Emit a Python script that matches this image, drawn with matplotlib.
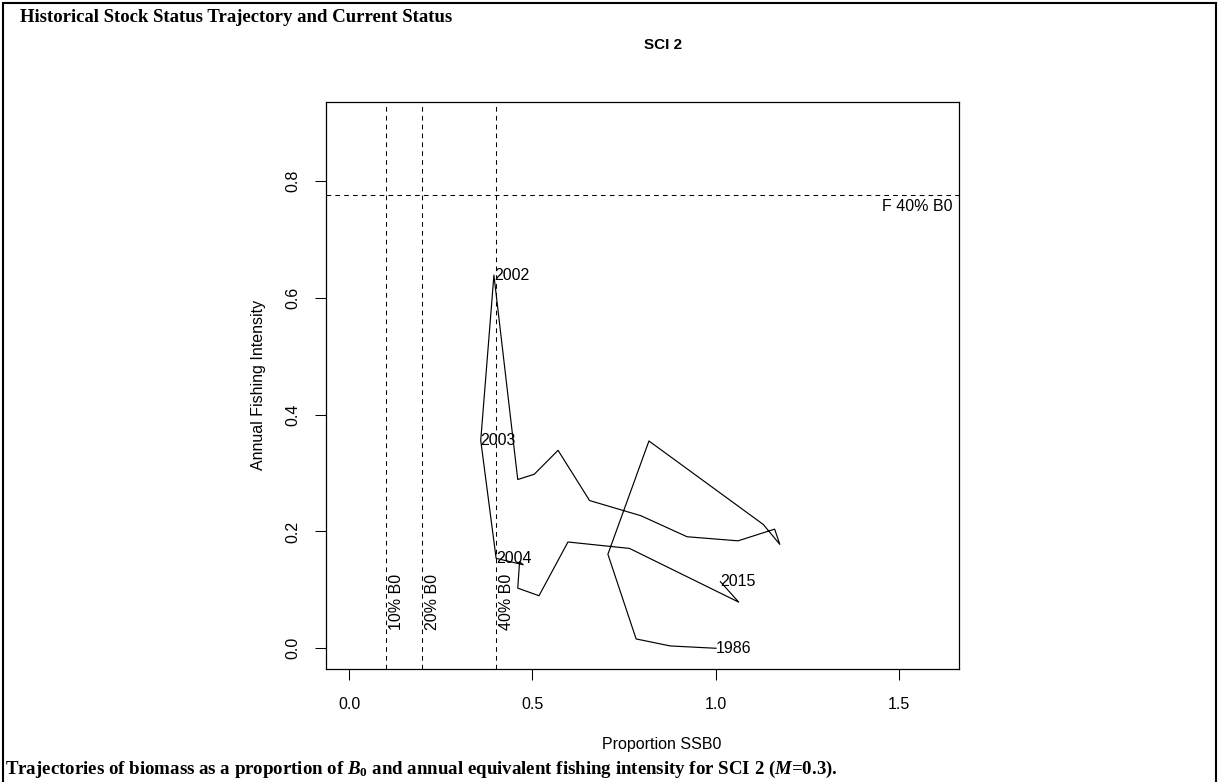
import matplotlib
matplotlib.use("Agg")
import matplotlib.pyplot as plt
from matplotlib.patches import Rectangle

plt.rcParams["font.family"] = ["Liberation Sans", "DejaVu Sans"]
plt.rcParams["mathtext.fontset"] = "custom"
plt.rcParams["mathtext.rm"] = "Liberation Serif:bold"
plt.rcParams["mathtext.it"] = "Liberation Serif:italic:bold"
plt.rcParams["mathtext.bf"] = "Liberation Serif:bold"

# Stock trajectory: proportion of SSB0 against annual fishing intensity
ssb_prop = [1.001, 0.876, 0.783, 0.706, 0.818, 1.130, 1.175, 1.161, 1.061,
            0.922, 0.796, 0.656, 0.570, 0.505, 0.460, 0.395, 0.359, 0.401,
            0.475, 0.465, 0.460, 0.518, 0.597, 0.765, 1.063, 1.013]
fishing = [0.000, 0.004, 0.016, 0.161, 0.355, 0.212, 0.178, 0.204, 0.184,
           0.191, 0.227, 0.253, 0.339, 0.298, 0.289, 0.639, 0.356, 0.154,
           0.143, 0.148, 0.103, 0.090, 0.182, 0.171, 0.079, 0.114]

# Years annotated along the path, with the vertex each one belongs to
label_years = ["1986", "2002", "2003", "2004", "2015"]
label_index = [0, 15, 16, 17, 25]

# Reference levels
b0_levels = [0.1, 0.2, 0.4]
b0_labels = ["10% B0", "20% B0", "40% B0"]
f_target = 0.777
f_target_label = "F 40% B0"

x_ticks = [0.0, 0.5, 1.0, 1.5]
y_ticks = [0.0, 0.2, 0.4, 0.6, 0.8]
x_range = (0.0, 1.6)
y_range = (0.0, 0.9)

W, H = 1219, 782
fig = plt.figure(figsize=(W / 100, H / 100), dpi=100)
ax = fig.add_axes([325.7 / W, 1 - 669.3 / H, (959 - 325.7) / W, (669.3 - 101.7) / H])

fs = 11.5
dash = (0, (4.5, 4))

# R-style 4% padding on the axis ranges
xpad = 0.04 * (x_range[1] - x_range[0])
ypad = 0.04 * (y_range[1] - y_range[0])
ax.set_xlim(x_range[0] - xpad, x_range[1] + xpad)
ax.set_ylim(y_range[0] - ypad, y_range[1] + ypad)

for lev, lab in zip(b0_levels, b0_labels):
    ax.axvline(lev, color="black", lw=0.75, linestyle=dash)
    ax.text(lev + 0.008, 0.031, lab, rotation=90, ha="left", va="bottom", fontsize=fs)

ax.axhline(f_target, color="black", lw=0.75, linestyle=dash)
ax.text(0.99, f_target - 0.008, f_target_label, transform=ax.get_yaxis_transform(),
        ha="right", va="top", fontsize=fs)

ax.plot(ssb_prop, fishing, color="black", lw=0.85)
for yr, i in zip(label_years, label_index):
    ax.text(ssb_prop[i], fishing[i], yr, ha="left", va="center", fontsize=fs)

ax.set_xticks(x_ticks)
ax.set_xticklabels([f"{v:.1f}" for v in x_ticks])
ax.set_yticks(y_ticks)
ax.set_yticklabels([f"{v:.1f}" for v in y_ticks], rotation=90, va="center")
ax.tick_params(axis="both", direction="out", length=8, width=0.75,
               labelsize=fs, color="black")
ax.tick_params(axis="x", pad=12)
ax.tick_params(axis="y", pad=10)
for s in ax.spines.values():
    s.set_linewidth(0.9)
    s.set_color("black")

fig.text(662 / W, 1 - 745 / H, "Proportion SSB0", ha="center", va="center", fontsize=fs)
fig.text(258 / W, 1 - 385 / H, "Annual Fishing Intensity", rotation=90,
         ha="center", va="center", fontsize=fs)

fig.text(663 / W, 1 - 45 / H, "SCI 2", ha="center", va="center",
         fontsize=11, fontweight="bold")
fig.text(20 / W, 1 - 17 / H, "Historical Stock Status Trajectory and Current Status",
         ha="left", va="center", fontsize=13.5, fontweight="bold",
         family="Liberation Serif")
fig.text(5 / W, 1 - 769 / H,
         r"Trajectories of biomass as a proportion of $B_{\mathit{0}}$ and annual "
         r"equivalent fishing intensity for SCI 2 ($M$=0.3).",
         ha="left", va="center", fontsize=13.6, fontweight="bold",
         family="Liberation Serif")

# Outer frame around the whole panel
fig.patches.append(Rectangle((3 / W, -0.02), (1216 - 3) / W, 1.02 - 3 / H,
                             transform=fig.transFigure, fill=False,
                             edgecolor="black", linewidth=1.5))

fig.savefig("out.png", dpi=100)
